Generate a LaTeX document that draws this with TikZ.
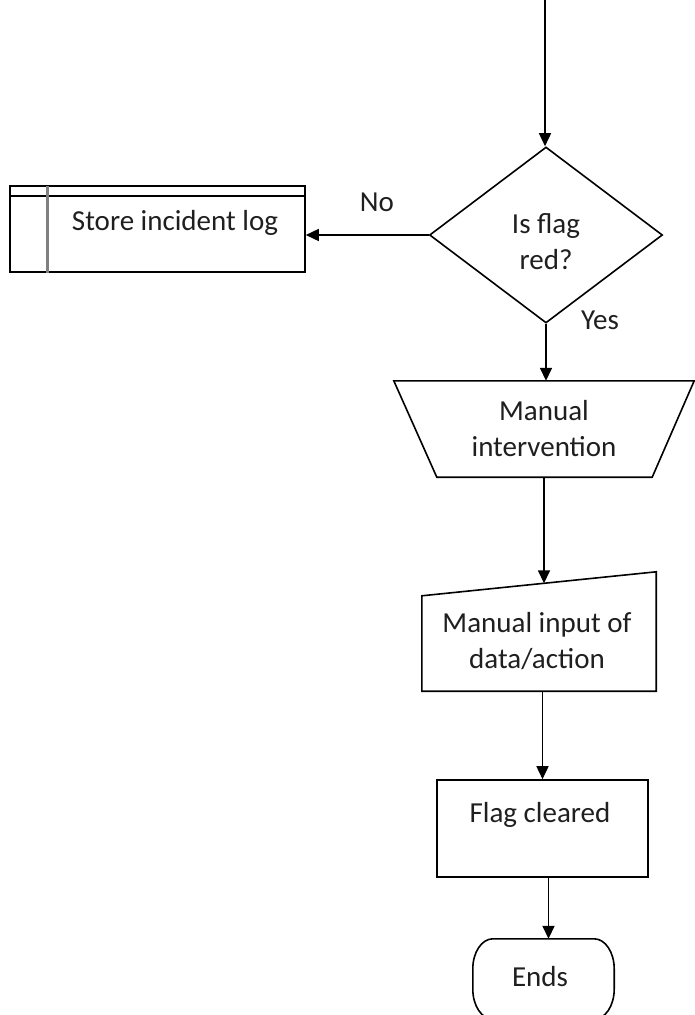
\documentclass[tikz,border=0pt]{standalone}
\usepackage{fontspec}
\setmainfont{Carlito}
\usetikzlibrary{shapes.geometric,arrows.meta,calc}
\begin{document}
\begin{tikzpicture}[x=1pt,y=-1pt,
  every node/.style={font=\fontsize{29}{36}\selectfont, text=black!88, inner sep=0pt, align=center},
  shapebox/.style={draw=black, line width=1.6pt},
  arr/.style={line width=1.6pt, -{Triangle[length=13pt,width=12pt]}},
]
\useasboundingbox (0,0) rectangle (694,1015);
% shapes
\node[shapebox, diamond, minimum width=233pt, minimum height=176pt] (dec) at (546,235) {};
\node (dectext) at (546,242) {Is flag\\red?};
\node[shapebox, rectangle, minimum width=295pt, minimum height=86pt] (log) at (157.5,229) {};
\draw[line width=1.6pt] ($(log.north west)+(0,11)$) coordinate (lA) -- (lA -| log.east);
\draw[line width=3pt, black!50] ($(log.north west)+(38,1)$) coordinate (lB) -- (lB |- log.south);
\node (logtext) at (175,223) {Store incident log};
\node[minimum width=300pt, minimum height=96pt] (mi) at (544,429) {Manual\\intervention};
\draw[shapebox] (mi.north west) -- (mi.north east) -- ($(mi.south east)+(-42,0)$) -- ($(mi.south west)+(43,0)$) -- cycle;
\node[minimum width=234pt, minimum height=119pt] (inp) at (539,631.5) {};
\coordinate (iL) at ($(inp.north west)+(0,24)$);
\coordinate (iR) at (inp.north east);
\coordinate (itop) at ($(iL)!0.521!(iR)$);
\draw[shapebox] (inp.south west) -- (inp.south east) -- (iR) -- (iL) -- cycle;
\node (inptext) at (537,641.5) {Manual input of\\data/action};
\node[shapebox, rectangle, minimum width=211pt, minimum height=97pt] (flag) at (542.5,828.5) {};
\node (flagtext) at (540,815) {Flag cleared};
% terminator with elliptical corners (bottom runs off the page)
\node[minimum width=141pt, minimum height=80pt] (ends) at (543.5,979) {};
\draw[shapebox]
  ($(ends.north west)+(20,0)$) -- ($(ends.north east)+(-20,0)$)
  .. controls ($(ends.north east)+(-9,0)$) and ($(ends.north east)+(0,13.4)$) .. ($(ends.north east)+(0,30)$)
  -- ($(ends.south east)+(0,-30)$)
  .. controls ($(ends.south east)+(0,-13.4)$) and ($(ends.south east)+(-9,0)$) .. ($(ends.south east)+(-20,0)$)
  -- ($(ends.south west)+(20,0)$)
  .. controls ($(ends.south west)+(9,0)$) and ($(ends.south west)+(0,-13.4)$) .. ($(ends.south west)+(0,-30)$)
  -- ($(ends.north west)+(0,30)$)
  .. controls ($(ends.north west)+(0,13.4)$) and ($(ends.north west)+(9,0)$) .. cycle;
\node (endstext) at (540,977) {Ends};
% labels
\node (no) at (377,202) {No};
\node (yes) at (600,320) {Yes};
% connectors
\coordinate (start) at (545,-2);
\draw[arr] (start) -- (start |- dec.north);
\draw[arr] (dec.west) -- (dec.west -| log.east);
\draw[arr] (dec.south) -- (dec.south |- mi.north);
\draw[arr] (mi.south) -- (mi.south |- itop);
\draw[arr] (inp.south -| flag.north) -- (flag.north);
\draw[arr] ([xshift=6pt]flag.south) -- ([xshift=6pt]flag.south |- ends.north);
\end{tikzpicture}
\end{document}
